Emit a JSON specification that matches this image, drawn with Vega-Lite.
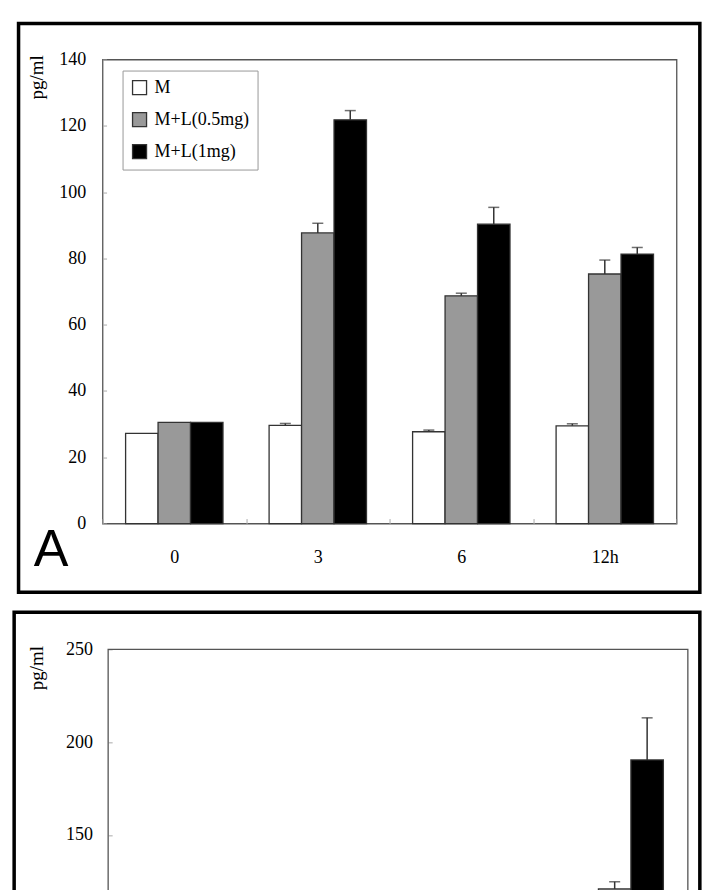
{
  "$schema": "https://vega.github.io/schema/vega-lite/v6.json",
  "padding": {"left": 11.55, "top": 20.55, "right": 0, "bottom": 0},
  "spacing": 14.8,
  "columns": 1,
  "config": {
    "view": {"stroke": "#555555", "strokeWidth": 1.3},
    "font": "Liberation Serif",
    "axis": {"grid": false, "domain": false, "labelFont": "Liberation Serif", "labelFontSize": 18, "labelColor": "#000000", "tickColor": "#aaaaaa", "titleFont": "Liberation Serif", "titleFontWeight": "normal", "titleColor": "#000000"},
    "legend": {"labelFont": "Liberation Serif"}
  },
  "datasets": {
    "a": [
      {"time": "0", "series": "M", "value": 27.2, "upper": null},
      {"time": "0", "series": "M+L(0.5mg)", "value": 30.5, "upper": null},
      {"time": "0", "series": "M+L(1mg)", "value": 30.5, "upper": null},
      {"time": "3", "series": "M", "value": 29.6, "upper": 30.2},
      {"time": "3", "series": "M+L(0.5mg)", "value": 87.7, "upper": 90.6},
      {"time": "3", "series": "M+L(1mg)", "value": 121.8, "upper": 124.6},
      {"time": "6", "series": "M", "value": 27.7, "upper": 28.2},
      {"time": "6", "series": "M+L(0.5mg)", "value": 68.7, "upper": 69.5},
      {"time": "6", "series": "M+L(1mg)", "value": 90.3, "upper": 95.4},
      {"time": "12h", "series": "M", "value": 29.5, "upper": 30.1},
      {"time": "12h", "series": "M+L(0.5mg)", "value": 75.3, "upper": 79.5},
      {"time": "12h", "series": "M+L(1mg)", "value": 81.3, "upper": 83.3}
    ],
    "b": [
      {"time": "0", "series": "M", "value": 30, "upper": null},
      {"time": "0", "series": "M+L(0.5mg)", "value": 32, "upper": null},
      {"time": "0", "series": "M+L(1mg)", "value": 33, "upper": null},
      {"time": "3", "series": "M", "value": 32, "upper": 34},
      {"time": "3", "series": "M+L(0.5mg)", "value": 60, "upper": 65},
      {"time": "3", "series": "M+L(1mg)", "value": 80, "upper": 88},
      {"time": "6", "series": "M", "value": 31, "upper": 33},
      {"time": "6", "series": "M+L(0.5mg)", "value": 70, "upper": 76},
      {"time": "6", "series": "M+L(1mg)", "value": 95, "upper": 104},
      {"time": "12h", "series": "M", "value": 33, "upper": 35},
      {"time": "12h", "series": "M+L(0.5mg)", "value": 120.9, "upper": 124.8},
      {"time": "12h", "series": "M+L(1mg)", "value": 190.4, "upper": 213.1}
    ]
  },
  "concat": [
    {
      "width": 574,
      "height": 464,
      "title": {"text": "A", "orient": "bottom", "anchor": "start", "frame": "group", "font": "Liberation Sans", "fontSize": 52, "fontWeight": "normal", "color": "#000000", "dx": -68.7, "dy": -69.3, "offset": 0},
      "layer": [
        {
          "data": {"name": "a"},
          "encoding": {
            "x": {"field": "time", "type": "nominal", "sort": ["0", "3", "6", "12h"], "title": null,
              "scale": {"paddingInner": 0, "paddingOuter": 0},
              "axis": {"labelAngle": 0, "tickBand": "extent", "tickSize": -5, "labelPadding": 30}},
            "xOffset": {"field": "series", "type": "nominal", "sort": ["M", "M+L(0.5mg)", "M+L(1mg)"],
              "scale": {"paddingInner": 0, "paddingOuter": 0.71}},
            "y": {"field": "value", "type": "quantitative", "title": "pg/ml",
              "scale": {"domain": [0, 140], "nice": false},
              "axis": {"values": [0, 20, 40, 60, 80, 100, 120, 140], "tickSize": -4, "labelPadding": 20.7,
                "titleX": -65.7, "titleY": 17.2, "titleAngle": 270, "titleAlign": "center", "titleBaseline": "middle", "titleFontSize": 19}}
          },
          "layer": [
            {
              "mark": {"type": "bar", "stroke": "#333333", "strokeWidth": 1.3},
              "encoding": {
                "color": {"field": "series", "type": "nominal", "sort": ["M", "M+L(0.5mg)", "M+L(1mg)"],
                  "scale": {"domain": ["M", "M+L(0.5mg)", "M+L(1mg)"], "range": ["#ffffff", "#999999", "#000000"]},
                  "legend": {"title": null, "orient": "none", "legendX": 20, "legendY": 11, "padding": 8,
                    "strokeColor": "#999999", "fillColor": "#ffffff", "symbolType": "square", "symbolSize": 196,
                    "symbolStrokeColor": "#333333", "symbolStrokeWidth": 1.3, "labelFontSize": 18, "labelColor": "#000000",
                    "labelOffset": 6, "rowPadding": 12}}
              }
            },
            {
              "transform": [{"filter": "datum.upper != null"}],
              "mark": {"type": "rule", "color": "#333333", "strokeWidth": 1.5},
              "encoding": {"y2": {"field": "upper"}}
            },
            {
              "transform": [{"filter": "datum.upper != null"}],
              "mark": {"type": "tick", "color": "#333333", "thickness": 1.5, "size": 11},
              "encoding": {"y": {"field": "upper", "type": "quantitative"}}
            }
          ]
        },
        {
          "data": {"values": [{}]},
          "mark": {"type": "rect", "fill": "transparent", "stroke": "#000000", "strokeWidth": 3.5},
          "encoding": {
            "x": {"datum": -0.14634, "type": "quantitative", "scale": {"domain": [0, 1]}, "axis": null},
            "x2": {"datum": 1.04059},
            "y": {"datum": 150.86, "type": "quantitative", "scale": {"domain": [0, 140], "nice": false}},
            "y2": {"datum": -20.73}
          }
        }
      ],
      "resolve": {"scale": {"x": "independent"}}
    },
    {
      "width": 585.3,
      "height": 464,
      "view": {"stroke": null},
      "layer": [
        {
          "data": {"name": "b"},
          "encoding": {
            "x": {"field": "time", "type": "nominal", "sort": ["0", "3", "6", "12h"], "title": null,
              "scale": {"paddingInner": 0, "paddingOuter": 0.01932, "align": 1},
              "axis": {"labels": false, "tickBand": "extent", "tickSize": -5}},
            "xOffset": {"field": "series", "type": "nominal", "sort": ["M", "M+L(0.5mg)", "M+L(1mg)"],
              "scale": {"paddingInner": 0, "paddingOuter": 0.63}},
            "y": {"field": "value", "type": "quantitative", "title": "pg/ml",
              "scale": {"domain": [0, 250], "nice": false},
              "axis": {"values": [150, 200, 250], "offset": -5.6, "tickSize": -4, "labelPadding": 19.6,
                "titleX": -71.3, "titleY": 18.2, "titleAngle": 270, "titleAlign": "center", "titleBaseline": "middle", "titleFontSize": 19}}
          },
          "layer": [
            {
              "mark": {"type": "bar", "stroke": "#333333", "strokeWidth": 1.3},
              "encoding": {
                "color": {"field": "series", "type": "nominal", "sort": ["M", "M+L(0.5mg)", "M+L(1mg)"],
                  "scale": {"domain": ["M", "M+L(0.5mg)", "M+L(1mg)"], "range": ["#ffffff", "#999999", "#000000"]},
                  "legend": {"title": null, "orient": "none", "legendX": 26.6, "legendY": 10, "padding": 8,
                    "strokeColor": "#999999", "fillColor": "#ffffff", "symbolType": "square", "symbolSize": 196,
                    "symbolStrokeColor": "#333333", "symbolStrokeWidth": 1.3, "labelFontSize": 18, "labelColor": "#000000",
                    "labelOffset": 6, "rowPadding": 12}}
              }
            },
            {
              "transform": [{"filter": "datum.upper != null"}],
              "mark": {"type": "rule", "color": "#333333", "strokeWidth": 1.5},
              "encoding": {"y2": {"field": "upper"}}
            },
            {
              "transform": [{"filter": "datum.upper != null"}],
              "mark": {"type": "tick", "color": "#333333", "thickness": 1.5, "size": 11},
              "encoding": {"y": {"field": "upper", "type": "quantitative"}}
            }
          ]
        },
        {
          "data": {"values": [{}]},
          "mark": {"type": "rect", "fill": "transparent", "stroke": "#555555", "strokeWidth": 1.3},
          "encoding": {
            "x": {"datum": 0.009568, "type": "quantitative", "scale": {"domain": [0, 1]}, "axis": null},
            "x2": {"datum": 1},
            "y": {"datum": 250, "type": "quantitative", "scale": {"domain": [0, 250], "nice": false}},
            "y2": {"datum": 0}
          }
        },
        {
          "data": {"values": [{}]},
          "mark": {"type": "rect", "fill": "transparent", "stroke": "#000000", "strokeWidth": 3.5},
          "encoding": {
            "x": {"datum": -0.15103, "type": "quantitative", "scale": {"domain": [0, 1]}, "axis": null},
            "x2": {"datum": 1.0205},
            "y": {"datum": 269.94, "type": "quantitative", "scale": {"domain": [0, 250], "nice": false}},
            "y2": {"datum": -37.0}
          }
        }
      ],
      "resolve": {"scale": {"x": "independent"}}
    }
  ]
}
